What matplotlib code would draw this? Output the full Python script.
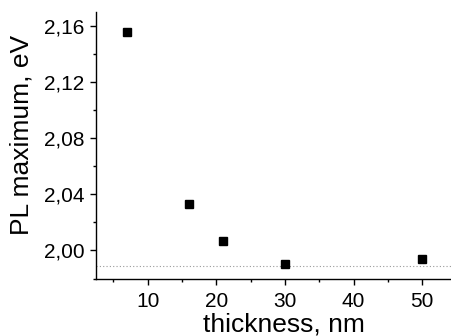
import matplotlib
matplotlib.use("Agg")
import matplotlib.pyplot as plt
from matplotlib.ticker import MultipleLocator, FuncFormatter

# data
thickness = [7, 16, 21, 30, 50]
pl_max = [2.156, 2.033, 2.0067, 1.9903, 1.9936]
bulk_level = 1.9893

plt.rcParams['font.family'] = ['Liberation Sans', 'DejaVu Sans']

fig = plt.figure(figsize=(4.51, 3.36), dpi=100)
ax = fig.add_axes([0.212, 0.171, 0.788, 0.793])

ax.axhline(bulk_level, color="#999999", linestyle=(0, (1, 2)), linewidth=0.8, zorder=1)
ax.plot(thickness, pl_max, linestyle="none", marker="s", markersize=6,
        color="black", zorder=3)

ax.set_xlim(2.4, 54.2)
ax.set_ylim(1.98, 2.17)

ax.xaxis.set_major_locator(MultipleLocator(10))
ax.xaxis.set_minor_locator(MultipleLocator(5))
ax.yaxis.set_major_locator(MultipleLocator(0.04))
ax.yaxis.set_minor_locator(MultipleLocator(0.02))
ax.yaxis.set_major_formatter(FuncFormatter(lambda v, p: "{:.2f}".format(v).replace(".", ",")))

ax.spines["top"].set_visible(False)
ax.spines["right"].set_visible(False)
for s in ["left", "bottom"]:
    ax.spines[s].set_linewidth(1.0)

ax.tick_params(which="major", direction="out", length=4, width=1, labelsize=15)
ax.tick_params(which="minor", direction="out", length=2.5, width=1)
ax.tick_params(axis="x", which="major", pad=6)
ax.tick_params(axis="y", which="major", pad=4)

ax.set_xlabel("thickness, nm", fontsize=19)
ax.set_ylabel("PL maximum, eV", fontsize=19)
ax.xaxis.set_label_coords(0.53, -0.128)
ax.yaxis.set_label_coords(-0.175, 0.54)

fig.savefig("out.png", dpi=100)
